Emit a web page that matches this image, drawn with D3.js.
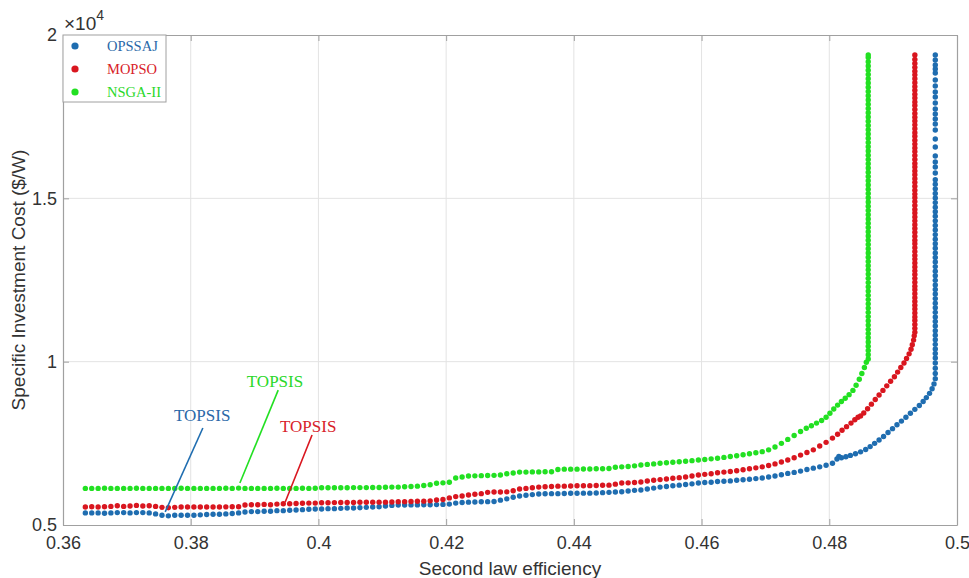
<!DOCTYPE html>
<html>
<head>
<meta charset="utf-8">
<script src="https://cdn.jsdelivr.net/npm/d3@7"></script>
<style>
	body { margin: 0; background: #fff; }
	#viz-container { width: 969px; height: 578px; }
	text { font-family: "Liberation Sans", Arial, sans-serif; }
	.serif { font-family: "Liberation Serif", "Times New Roman", serif; }
</style>
</head>
<body>
<div id="viz-container"></div>
<script>
// second law efficiency vs specific investment cost ($/W)
var opssaj = [[0.3635,5370],[0.3645,5370],[0.3655,5370],[0.3665,5360],[0.3675,5370],[0.3685,5380],[0.3695,5380],[0.3705,5370],[0.3715,5380],[0.3725,5380],[0.3735,5370],[0.3745,5340],[0.3755,5300],[0.3765,5280],[0.3775,5300],[0.3785,5300],[0.3795,5300],[0.3805,5300],[0.3815,5310],[0.3825,5320],[0.3835,5330],[0.3845,5330],[0.3855,5340],[0.3865,5350],[0.3875,5370],[0.3885,5400],[0.3895,5410],[0.3905,5410],[0.3915,5420],[0.3925,5420],[0.3935,5440],[0.3945,5440],[0.3955,5450],[0.3965,5460],[0.3975,5470],[0.3985,5480],[0.3995,5490],[0.4005,5490],[0.4015,5500],[0.4025,5500],[0.4035,5510],[0.4045,5520],[0.4055,5520],[0.4065,5530],[0.4075,5540],[0.4085,5550],[0.4095,5560],[0.4105,5580],[0.4115,5600],[0.4125,5610],[0.4135,5610],[0.4145,5615],[0.4155,5615],[0.4165,5620],[0.4175,5620],[0.4185,5625],[0.4195,5630],[0.4205,5640],[0.4215,5670],[0.4225,5690],[0.4235,5700],[0.4245,5705],[0.4255,5710],[0.4265,5715],[0.4275,5720],[0.4285,5760],[0.4295,5800],[0.4305,5850],[0.4315,5890],[0.4325,5910],[0.4335,5930],[0.4345,5950],[0.4355,5955],[0.4365,5960],[0.4375,5960],[0.4385,5965],[0.4395,5970],[0.4405,5970],[0.4415,5975],[0.4425,5975],[0.4435,5980],[0.4445,5990],[0.4455,6000],[0.4465,6010],[0.4475,6020],[0.4485,6040],[0.4495,6060],[0.4505,6070],[0.4515,6100],[0.4525,6130],[0.4535,6160],[0.4545,6180],[0.4555,6200],[0.4565,6220],[0.4575,6240],[0.4585,6260],[0.4595,6285],[0.4605,6300],[0.4615,6310],[0.4625,6330],[0.4635,6340],[0.4645,6350],[0.4655,6370],[0.4665,6385],[0.4675,6400],[0.4685,6420],[0.4695,6440],[0.4705,6470],[0.4715,6500],[0.4725,6540],[0.4735,6580],[0.4745,6610],[0.4755,6650],[0.4765,6700],[0.4775,6740],[0.4785,6780],[0.4795,6830],[0.4805,6890],[0.4812,7020],[0.4815,7100],[0.4819,7060],[0.4826,7090],[0.4833,7130],[0.4841,7180],[0.4849,7240],[0.4857,7310],[0.4864,7400],[0.4871,7500],[0.4878,7600],[0.4885,7710],[0.4892,7830],[0.4899,7950],[0.4906,8070],[0.4913,8180],[0.4920,8300],[0.4927,8420],[0.4934,8540],[0.4941,8660],[0.4947,8780],[0.4952,8900],[0.4957,9030],[0.4961,9170],[0.4964,9320],[0.4966,9480],[0.4966,9640],[0.4966,9800],[0.4966,9960],
	[0.4966,10110],[0.4966,10250],[0.4966,10390],[0.4966,10530],[0.4966,10670],[0.4966,10810],[0.4966,10950],[0.4966,11090],[0.4966,11230],[0.4966,11370],[0.4966,11510],[0.4966,11650],[0.4966,11790],[0.4966,11930],[0.4966,12070],[0.4966,12210],[0.4966,12350],[0.4966,12490],[0.4966,12630],[0.4966,12770],[0.4966,12910],[0.4966,13050],[0.4966,13190],[0.4966,13330],[0.4966,13470],[0.4966,13610],[0.4966,13750],[0.4966,13890],[0.4966,14030],[0.4966,14170],[0.4966,14310],[0.4966,14450],[0.4966,14590],[0.4966,14730],[0.4966,14870],[0.4966,15010],[0.4966,15150],[0.4966,15290],[0.4966,15430],[0.4966,15570],[0.4966,15775],[0.4966,15958],[0.4966,16111],[0.4966,16295],[0.4966,16570],[0.4966,16815],[0.4966,17091],[0.4966,17275],[0.4966,17428],[0.4966,17581],[0.4966,17734],[0.4966,17917],[0.4966,18101],[0.4966,18254],[0.4966,18438],[0.4966,18621],[0.4966,18836],[0.4966,18958],[0.4966,19080],[0.4966,19234],[0.4966,19387]];

var mopso = [[0.3635,5550],[0.3645,5560],[0.3655,5550],[0.3665,5560],[0.3675,5570],[0.3685,5590],[0.3695,5570],[0.3705,5580],[0.3715,5600],[0.3725,5580],[0.3735,5590],[0.3745,5570],[0.3755,5540],[0.3765,5530],[0.3775,5540],[0.3785,5550],[0.3795,5550],[0.3805,5550],[0.3815,5550],[0.3825,5550],[0.3835,5550],[0.3845,5550],[0.3855,5555],[0.3865,5560],[0.3875,5560],[0.3885,5610],[0.3895,5620],[0.3905,5620],[0.3915,5630],[0.3925,5620],[0.3935,5640],[0.3945,5650],[0.3955,5650],[0.3965,5660],[0.3975,5665],[0.3985,5670],[0.3995,5670],[0.4005,5680],[0.4015,5680],[0.4025,5685],[0.4035,5690],[0.4045,5690],[0.4055,5690],[0.4065,5695],[0.4075,5695],[0.4085,5700],[0.4095,5700],[0.4105,5700],[0.4115,5705],[0.4125,5710],[0.4135,5715],[0.4145,5720],[0.4155,5725],[0.4165,5730],[0.4175,5740],[0.4185,5765],[0.4195,5780],[0.4205,5830],[0.4215,5870],[0.4225,5890],[0.4235,5920],[0.4245,5940],[0.4255,5960],[0.4265,6000],[0.4275,6010],[0.4285,6010],[0.4295,6015],[0.4305,6050],[0.4315,6100],[0.4325,6120],[0.4335,6140],[0.4345,6160],[0.4355,6170],[0.4365,6180],[0.4375,6190],[0.4385,6190],[0.4395,6195],[0.4405,6200],[0.4415,6200],[0.4425,6205],[0.4435,6210],[0.4445,6215],[0.4455,6220],[0.4465,6250],[0.4475,6285],[0.4485,6290],[0.4495,6300],[0.4505,6315],[0.4515,6345],[0.4525,6370],[0.4535,6390],[0.4545,6410],[0.4555,6430],[0.4565,6450],[0.4575,6470],[0.4585,6500],[0.4595,6530],[0.4605,6550],[0.4615,6570],[0.4625,6600],[0.4635,6620],[0.4645,6640],[0.4655,6660],[0.4665,6690],[0.4675,6720],[0.4685,6750],[0.4695,6780],[0.4705,6820],[0.4715,6870],[0.4725,6930],[0.4735,6990],[0.4745,7060],[0.4755,7140],[0.4765,7220],[0.4775,7300],[0.4785,7420],[0.4795,7530],[0.4805,7660],[0.4813,7780],[0.4820,7900],[0.4827,8010],[0.4834,8120],[0.4840,8220],[0.4845,8300],[0.4849,8340],[0.4854,8430],[0.4860,8560],[0.4866,8700],[0.4872,8840],[0.4878,8980],[0.4884,9120],[0.4890,9260],[0.4896,9400],[0.4902,9540],[0.4907,9680],[0.4912,9820],[0.4917,9960],[0.4921,10100],[0.4925,10240],[0.4928,10380],[0.4930,10520],[0.4932,10660],[0.4933,10790],[0.4934,10900],
	[0.4934,11020],[0.4934,11140],[0.4934,11260],[0.4934,11370],[0.4934,11490],[0.4934,11610],[0.4934,11730],[0.4934,11840],[0.4934,11960],[0.4934,12080],[0.4934,12200],[0.4934,12310],[0.4934,12430],[0.4934,12550],[0.4934,12670],[0.4934,12780],[0.4934,12900],[0.4934,13020],[0.4934,13140],[0.4934,13250],[0.4934,13370],[0.4934,13490],[0.4934,13610],[0.4934,13720],[0.4934,13840],[0.4934,13960],[0.4934,14080],[0.4934,14190],[0.4934,14310],[0.4934,14430],[0.4934,14550],[0.4934,14660],[0.4934,14780],[0.4934,14900],[0.4934,15020],[0.4934,15130],[0.4934,15250],[0.4934,15370],[0.4934,15490],[0.4934,15600],[0.4934,15720],[0.4934,15840],[0.4934,15960],[0.4934,16070],[0.4934,16190],[0.4934,16310],[0.4934,16430],[0.4934,16540],[0.4934,16660],[0.4934,16780],[0.4934,16900],[0.4934,17010],[0.4934,17130],[0.4934,17250],[0.4934,17370],[0.4934,17480],[0.4934,17600],[0.4934,17720],[0.4934,17840],[0.4934,17950],[0.4934,18070],[0.4934,18190],[0.4934,18310],[0.4934,18420],[0.4934,18540],[0.4934,18660],[0.4934,18780],[0.4934,18890],[0.4934,19010],[0.4934,19130],[0.4934,19250],[0.4934,19390]];

var nsga2 = [[0.3635,6120],[0.3645,6120],[0.3655,6120],[0.3665,6125],[0.3675,6120],[0.3685,6120],[0.3695,6120],[0.3705,6120],[0.3715,6125],[0.3725,6120],[0.3735,6120],[0.3745,6120],[0.3755,6120],[0.3765,6120],[0.3775,6120],[0.3785,6125],[0.3795,6120],[0.3805,6120],[0.3815,6120],[0.3825,6120],[0.3835,6120],[0.3845,6120],[0.3855,6125],[0.3865,6120],[0.3875,6130],[0.3885,6120],[0.3895,6120],[0.3905,6120],[0.3915,6120],[0.3925,6120],[0.3935,6125],[0.3945,6120],[0.3955,6120],[0.3965,6120],[0.3975,6125],[0.3985,6120],[0.3995,6125],[0.4005,6140],[0.4015,6140],[0.4025,6140],[0.4035,6140],[0.4045,6140],[0.4055,6145],[0.4065,6145],[0.4075,6145],[0.4085,6150],[0.4095,6150],[0.4105,6155],[0.4115,6160],[0.4125,6160],[0.4135,6170],[0.4145,6180],[0.4155,6190],[0.4165,6210],[0.4175,6230],[0.4185,6280],[0.4195,6290],[0.4205,6310],[0.4215,6440],[0.4225,6470],[0.4235,6500],[0.4245,6505],[0.4255,6510],[0.4265,6515],[0.4275,6520],[0.4285,6530],[0.4295,6570],[0.4305,6590],[0.4315,6620],[0.4325,6620],[0.4335,6625],[0.4345,6625],[0.4355,6630],[0.4365,6630],[0.4375,6700],[0.4385,6710],[0.4395,6710],[0.4405,6710],[0.4415,6715],[0.4425,6715],[0.4435,6720],[0.4445,6720],[0.4455,6730],[0.4465,6770],[0.4475,6780],[0.4485,6790],[0.4495,6810],[0.4505,6835],[0.4515,6855],[0.4525,6870],[0.4535,6890],[0.4545,6905],[0.4555,6920],[0.4565,6935],[0.4575,6950],[0.4585,6970],[0.4595,6990],[0.4605,7005],[0.4615,7025],[0.4625,7045],[0.4635,7070],[0.4645,7095],[0.4655,7120],[0.4665,7150],[0.4675,7180],[0.4685,7210],[0.4695,7245],[0.4705,7300],[0.4715,7390],[0.4725,7500],[0.4735,7620],[0.4745,7740],[0.4755,7860],[0.4764,7960],[0.4772,8040],[0.4780,8120],[0.4788,8200],[0.4795,8300],[0.4801,8420],[0.4807,8550],[0.4813,8670],[0.4819,8780],[0.4825,8880],[0.4831,8990],[0.4837,9120],[0.4842,9280],[0.4847,9460],[0.4851,9640],[0.4855,9820],[0.4858,9980],[0.4861,10080],
	[0.4861,10210],[0.4861,10340],[0.4861,10470],[0.4861,10600],[0.4861,10730],[0.4861,10860],[0.4861,10990],[0.4861,11120],[0.4861,11250],[0.4861,11380],[0.4861,11510],[0.4861,11640],[0.4861,11770],[0.4861,11900],[0.4861,12030],[0.4861,12160],[0.4861,12290],[0.4861,12420],[0.4861,12550],[0.4861,12680],[0.4861,12810],[0.4861,12940],[0.4861,13070],[0.4861,13200],[0.4861,13330],[0.4861,13460],[0.4861,13590],[0.4861,13720],[0.4861,13850],[0.4861,13980],[0.4861,14110],[0.4861,14240],[0.4861,14370],[0.4861,14500],[0.4861,14630],[0.4861,14760],[0.4861,14890],[0.4861,15020],[0.4861,15150],[0.4861,15280],[0.4861,15410],[0.4861,15540],[0.4861,15670],[0.4861,15800],[0.4861,15930],[0.4861,16060],[0.4861,16190],[0.4861,16320],[0.4861,16450],[0.4861,16580],[0.4861,16710],[0.4861,16840],[0.4861,16970],[0.4861,17100],[0.4861,17230],[0.4861,17360],[0.4861,17490],[0.4861,17620],[0.4861,17750],[0.4861,17880],[0.4861,18010],[0.4861,18140],[0.4861,18270],[0.4861,18400],[0.4861,18530],[0.4861,18660],[0.4861,18790],[0.4861,18920],[0.4861,19050],[0.4861,19180],[0.4861,19310],[0.4861,19390]];

var seriesNames = ['OPSSAJ', 'MOPSO', 'NSGA-II'];
var xTicks = [0.36, 0.38, 0.4, 0.42, 0.44, 0.46, 0.48, 0.5];
var yTicks = [5000, 10000, 15000, 20000];

// TOPSIS picks: [point eff, point cost, line top eff, line top cost, label eff, label cost]
var topsisBlue = [0.3760, 5400, 0.3819, 7970, 0.3818, 8180];
var topsisGreen = [0.3877, 6285, 0.3937, 9130, 0.3932, 9225];
var topsisRed = [0.3948, 5705, 0.3990, 7755, 0.3984, 7850];

var colors = ['#1f6db0', '#d9161f', '#22e022'];
var textColors = ['#2a68a8', '#d8222a', '#2ad82a'];

var W = 969, H = 578,
	pLeft = 63, pRight = 957, pTop = 35, pBottom = 525;

var svg = d3.select('#viz-container')
	.append('svg')
	.attr('width', W)
	.attr('height', H);

var x = d3.scaleLinear().domain([0.36, 0.5]).range([pLeft, pRight]);
var y = d3.scaleLinear().domain([5000, 20000]).range([pBottom, pTop]);

// grid
svg.append('g').selectAll('line')
	.data(xTicks.slice(1, -1))
	.enter()
	.append('line')
	.attr('x1', function(d){ return x(d); })
	.attr('x2', function(d){ return x(d); })
	.attr('y1', pTop).attr('y2', pBottom)
	.attr('stroke', '#e3e3e3');
svg.append('g').selectAll('line')
	.data(yTicks.slice(1, -1))
	.enter()
	.append('line')
	.attr('y1', function(d){ return y(d); })
	.attr('y2', function(d){ return y(d); })
	.attr('x1', pLeft).attr('x2', pRight)
	.attr('stroke', '#e3e3e3');

// axes, ticks pointing inward like matlab
var fmtX = function(d){ return String(+d.toFixed(2)); };
var fmtY = function(d){ return String(d / 1e4); };

var xAxis = svg.append('g')
	.attr('transform', 'translate(0,' + pBottom + ')')
	.call(d3.axisBottom(x).tickValues(xTicks).tickFormat(fmtX).tickSizeInner(-6).tickSizeOuter(0).tickPadding(11));
var xTopAxis = svg.append('g')
	.attr('transform', 'translate(0,' + pTop + ')')
	.call(d3.axisTop(x).tickValues(xTicks).tickFormat('').tickSizeInner(-6).tickSizeOuter(0));
var yAxis = svg.append('g')
	.attr('transform', 'translate(' + pLeft + ',0)')
	.call(d3.axisLeft(y).tickValues(yTicks).tickFormat(fmtY).tickSizeInner(-6).tickSizeOuter(0).tickPadding(6));
var yRightAxis = svg.append('g')
	.attr('transform', 'translate(' + pRight + ',0)')
	.call(d3.axisRight(y).tickValues(yTicks).tickFormat('').tickSizeInner(-6).tickSizeOuter(0));

[xAxis, xTopAxis, yAxis, yRightAxis].forEach(function(g){
	g.select('.domain').attr('stroke', '#a0a0a0').attr('stroke-width', 1.2);
	g.selectAll('.tick line').attr('stroke', '#a0a0a0');
	g.selectAll('.tick text')
		.attr('fill', '#333')
		.style('font-size', '18px')
		.style('font-family', '"Liberation Sans", Arial, sans-serif');
});

// exponent label
var expo = svg.append('text')
	.attr('x', 64)
	.attr('y', 30)
	.attr('fill', '#333')
	.style('font-size', '19px');
expo.append('tspan').text('\u00d710');
expo.append('tspan').attr('dy', -10).style('font-size', '14px').text('4');

// axis titles
svg.append('text')
	.attr('x', (pLeft + pRight) / 2)
	.attr('y', 575)
	.attr('text-anchor', 'middle')
	.attr('fill', '#333')
	.style('font-size', '19px')
	.text('Second law efficiency');
svg.append('text')
	.attr('transform', 'translate(25,' + ((pTop + pBottom) / 2) + ') rotate(-90)')
	.attr('text-anchor', 'middle')
	.attr('fill', '#333')
	.style('font-size', '19px')
	.text('Specific Investment Cost ($/W)');

// points
var allSeries = [opssaj, mopso, nsga2];
allSeries.forEach(function(data, i){
	svg.append('g')
		.selectAll('circle')
		.data(data)
		.enter()
		.append('circle')
		.attr('cx', function(d){ return x(d[0]); })
		.attr('cy', function(d){ return y(d[1]); })
		.attr('r', 2.7)
		.attr('fill', colors[i]);
});

// TOPSIS annotations
[topsisBlue, topsisRed, topsisGreen].forEach(function(t, k){
	svg.append('line')
		.attr('x1', x(t[0])).attr('y1', y(t[1]))
		.attr('x2', x(t[2])).attr('y2', y(t[3]))
		.attr('stroke', colors[k])
		.attr('stroke-width', 1.6);
	svg.append('text')
		.attr('class', 'serif')
		.attr('x', x(t[4]))
		.attr('y', y(t[5]))
		.attr('text-anchor', 'middle')
		.attr('fill', textColors[k])
		.style('font-size', '17px')
		.text('TOPSIS');
});

// legend
var legend = svg.append('g');
legend.append('rect')
	.attr('x', pLeft).attr('y', pTop)
	.attr('width', 103).attr('height', 67)
	.attr('fill', '#fff')
	.attr('stroke', '#a0a0a0');
seriesNames.forEach(function(name, i){
	legend.append('circle')
		.attr('cx', pLeft + 12)
		.attr('cy', pTop + 11 + i * 23)
		.attr('r', 3.6)
		.attr('fill', colors[i]);
	legend.append('text')
		.attr('class', 'serif')
		.attr('x', pLeft + 44)
		.attr('y', pTop + 16 + i * 23)
		.attr('fill', textColors[i])
		.style('font-size', '14.5px')
		.text(name);
});
</script>
</body>
</html>
